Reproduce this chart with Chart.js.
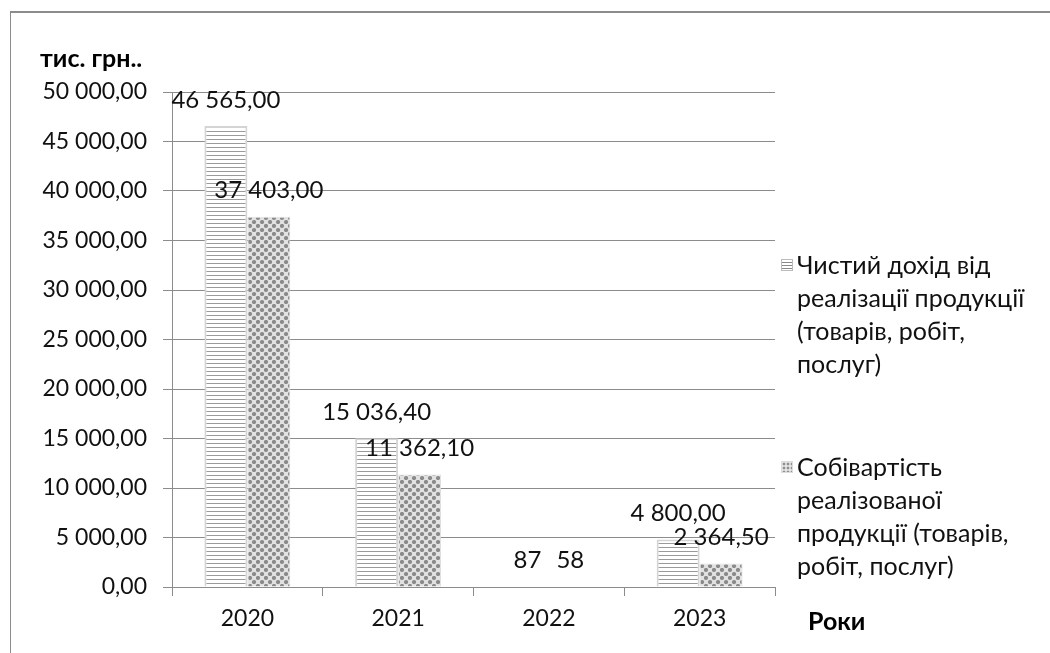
<!DOCTYPE html>
<html>
<head>
<meta charset="utf-8">
<script src="https://cdn.jsdelivr.net/npm/chart.js@4.4.1/dist/chart.umd.min.js"></script>
<style>
  html, body { margin: 0; padding: 0; background: #fff; }
  #wrap { position: relative; width: 1050px; height: 653px; overflow: hidden; font-family: Lato, "Noto Sans", sans-serif; }
  #frame { position: absolute; left: 10px; top: 11px; width: 1100px; height: 700px; border-left: 1px solid #8c8c8c; border-top: 2px solid #8c8c8c; }
  #chart { position: absolute; left: 0; top: 0; }
  .ttl { position: absolute; font-weight: bold; font-size: 25px; line-height: 30px; color: #000; }
  #legend { position: absolute; left: 781px; top: 248px; font-size: 25px; color: #111; line-height: 33px; }
  .item { position: relative; padding-left: 16px; }
  .item + .item { margin-top: 70px; }
  .sw { position: absolute; left: 0; top: 11px; width: 12px; height: 12px; box-sizing: border-box; border: 1px solid #bbb; }
  .sw.lines { background: repeating-linear-gradient(180deg, #fff 0, #fff 2px, #888 2px, #888 3px); }
  .sw.dots { border-color: #ddd; background: radial-gradient(circle, #8f8f8f 1.2px, transparent 1.7px) 0 0 / 4px 4px, #e6e6e6; }
</style>
</head>
<body>
<div id="wrap">
  <div id="frame"></div>
  <canvas id="chart" width="1050" height="653"></canvas>
  <div class="ttl" style="left:40px; top:42px;">тис. грн..</div>
  <div class="ttl" style="left:808px; top:605px;">Роки</div>
  <div id="legend">
    <div class="item"><span class="sw lines"></span>Чистий дохід від<br>реалізації продукції<br>(товарів, робіт,<br>послуг)</div>
    <div class="item"><span class="sw dots"></span>Собівартість<br>реалізованої<br>продукції (товарів,<br>робіт, послуг)</div>
  </div>
</div>
<script>
const years = ["2020", "2021", "2022", "2023"]
const revenue = [46565, 15036.4, 87, 4800]
const cost = [37403, 11362.1, 58, 2364.5]
const revenueLabels = ["46 565,00", "15 036,40", "87", "4 800,00"]
const costLabels = ["37 403,00", "11 362,10", "58", "2 364,50"]
const seriesNames = [
  "Чистий дохід від реалізації продукції (товарів, робіт, послуг)",
  "Собівартість реалізованої продукції (товарів, робіт, послуг)",
]

const FONT = "Lato, 'Noto Sans', sans-serif"

// fill patterns like the office chart
function linesPattern() {
  const c = document.createElement("canvas")
  c.width = 8
  c.height = 4
  const g = c.getContext("2d")
  g.fillStyle = "#fff"
  g.fillRect(0, 0, 8, 4)
  g.fillStyle = "#9a9a9a"
  g.fillRect(0, 3, 8, 1)
  return g.createPattern(c, "repeat")
}

function dotsPattern() {
  const c = document.createElement("canvas")
  c.width = 8
  c.height = 8
  const g = c.getContext("2d")
  g.fillStyle = "#e2e2e2"
  g.fillRect(0, 0, 8, 8)
  g.fillStyle = "#8a8a8a"
  ;[[2, 2], [6, 6], [6, -2], [-2, 6], [10, 6], [6, 10]].forEach(([x, y]) => {
    g.beginPath()
    g.arc(x, y, 2.1, 0, Math.PI * 2)
    g.fill()
  })
  return g.createPattern(c, "repeat")
}

const fmtTick = (v) => {
  const s = Math.round(v).toString().replace(/\B(?=(\d{3})+(?!\d))/g, " ")
  return s + ",00"
}

const valueLabels = {
  id: "valueLabels",
  afterDatasetsDraw(chart) {
    const ctx = chart.ctx
    const texts = [revenueLabels, costLabels]
    ctx.save()
    ctx.font = "24px " + FONT
    ctx.fillStyle = "#111"
    ctx.textAlign = "center"
    ctx.textBaseline = "middle"
    chart.data.datasets.forEach((ds, i) => {
      chart.getDatasetMeta(i).data.forEach((bar, j) => {
        ctx.fillText(texts[i][j], bar.x, bar.y - 26)
      })
    })
    ctx.restore()
  },
}

const ctx = document.getElementById("chart").getContext("2d")
new Chart(ctx, {
  type: "bar",
  data: {
    labels: years,
    datasets: [
      {
        label: seriesNames[0],
        data: revenue,
        backgroundColor: linesPattern(),
        borderColor: "#d4d4d4",
        borderWidth: 2,
        borderSkipped: "bottom",
      },
      {
        label: seriesNames[1],
        data: cost,
        backgroundColor: dotsPattern(),
        borderColor: "#e0e0e0",
        borderWidth: 1,
        borderSkipped: "bottom",
      },
    ],
  },
  options: {
    responsive: false,
    animation: false,
    events: [],
    categoryPercentage: 0.57,
    barPercentage: 1.0,
    layout: { padding: { left: 0, top: 92, right: 275, bottom: 0 } },
    plugins: {
      legend: { display: false },
      tooltip: { enabled: false },
    },
    scales: {
      x: {
        grid: { display: true, drawOnChartArea: false, drawTicks: true, tickLength: 9, color: "#8c8c8c", offset: true },
        border: { color: "#8c8c8c", width: 1 },
        ticks: { color: "#111", font: { family: FONT, size: 23 }, padding: 9, maxRotation: 0 },
        afterFit: (s) => { s.height = 66 },
      },
      y: {
        min: 0,
        max: 50000,
        grid: { color: "#8c8c8c", lineWidth: 1, tickLength: 9 },
        border: { color: "#8c8c8c", width: 1 },
        ticks: { stepSize: 5000, color: "#111", font: { family: FONT, size: 23 }, padding: 16, callback: fmtTick },
        afterFit: (s) => { s.width = 172 },
      },
    },
  },
  plugins: [valueLabels],
})
</script>
</body>
</html>
